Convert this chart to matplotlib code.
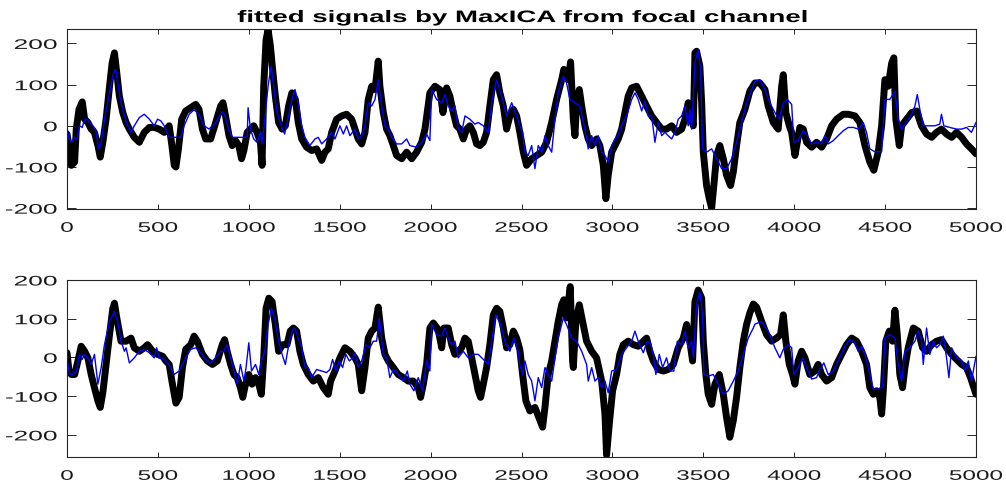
import numpy as np
import matplotlib
matplotlib.use("Agg")
import matplotlib.pyplot as plt
from matplotlib.patheffects import AbstractPathEffect
from matplotlib.transforms import Affine2D

# ---------------- data ----------------
top_black_x = [0,11,24,42,51,66,84,97,115,133,151,170,183,197,215,234,248,261,274,288,307,325,343,370,398,425,453,480,507,535,562,577,590,599,613,631,653,681,708,726,745,763,790,818,845,858,872,891,909,927,945,960,973,991,1009,1027,1045,1064,1073,1082,1095,1106,1119,1131,1146,1164,1183,1201,1219,1237,1256,1272,1291,1318,1346,1373,1401,1419,1437,1456,1483,1511,1538,1566,1584,1602,1621,1639,1657,1676,1694,1712,1721,1740,1758,1776,1795,1813,1841,1868,1896,1923,1951,1969,1984,1996,2024,2051,2068,2088,2106,2125,2143,2161,2180,2198,2216,2235,2253,2271,2290,2308,2326,2345,2363,2381,2400,2418,2436,2455,2473,2491,2510,2528,2556,2583,2611,2638,2666,2693,2721,2733,2757,2770,2785,2794,2803,2818,2831,2849,2867,2886,2913,2931,2950,2964,2977,2996,3014,3032,3051,3069,3087,3106,3133,3161,3188,3216,3243,3271,3298,3326,3353,3381,3399,3417,3436,3445,3454,3463,3481,3491,3500,3518,3533,3546,3558,3573,3591,3610,3628,3650,3665,3683,3701,3729,3756,3784,3811,3839,3857,3885,3912,3931,3940,3954,3973,3986,4004,4017,4031,4050,4068,4096,4123,4151,4178,4206,4233,4270,4297,4334,4361,4389,4416,4438,4462,4481,4499,4517,4536,4548,4559,4578,4591,4618,4646,4673,4700,4728,4756,4783,4810,4838,4866,4893,4921,4948,4975,5000]
top_black_y = [-20,-48,-96,-88,-8,40,58,16,8,-8,-16,-48,-76,-40,16,96,152,177,128,72,32,8,-8,-28,-40,-16,-4,-4,-8,-16,0,-48,-96,-100,-56,16,36,44,52,40,-8,-32,-32,8,48,56,24,-24,-48,-36,-48,-80,-60,-16,-8,0,-16,-40,-96,96,209,233,193,137,72,8,-8,0,48,80,64,8,-32,-52,-60,-56,-84,-64,-56,-16,16,24,28,16,-8,-32,-44,-16,64,96,88,157,96,32,-8,-24,-48,-72,-80,-64,-80,-64,-40,-8,40,80,96,88,32,92,72,32,0,-8,-32,-8,0,-16,-44,-48,-40,-16,48,112,124,80,48,-8,24,40,24,-16,-64,-96,-80,-72,-64,-40,8,64,112,137,112,155,16,-24,56,88,48,0,-32,-48,-32,-48,-96,-177,-120,-64,-48,-32,-8,32,72,92,96,72,48,24,8,-8,-8,0,-16,-8,16,56,16,0,177,181,145,56,-64,-145,-177,-200,-145,-72,-48,-80,-120,-145,-112,-48,8,40,84,104,104,88,48,8,-8,96,124,32,0,-16,-72,-40,-4,-8,-40,-52,-40,-52,-32,0,16,28,28,24,8,-48,-88,-108,-64,0,112,96,152,165,16,-48,0,16,32,36,0,-20,-28,-16,-8,-20,-28,-16,-28,-44,-56,-68]

top_blue_x = [0,11,24,42,55,69,84,97,110,124,142,157,175,188,206,234,256,267,279,297,316,334,352,370,398,425,453,480,498,516,535,562,589,626,644,672,699,726,754,781,818,845,858,872,891,909,945,991,996,1009,1027,1045,1064,1073,1088,1106,1122,1137,1155,1179,1197,1219,1237,1254,1272,1291,1309,1336,1364,1382,1401,1428,1456,1474,1501,1520,1538,1556,1584,1602,1621,1639,1657,1676,1694,1712,1731,1749,1767,1786,1813,1841,1868,1886,1923,1951,1978,1996,2006,2033,2061,2079,2097,2116,2134,2152,2171,2189,2216,2244,2262,2290,2317,2336,2363,2391,2418,2446,2473,2491,2506,2519,2537,2556,2574,2592,2611,2629,2647,2666,2684,2702,2730,2748,2766,2794,2821,2849,2867,2886,2904,2922,2941,2959,2977,2996,3014,3032,3051,3078,3106,3124,3142,3161,3179,3197,3216,3234,3252,3271,3289,3307,3326,3344,3362,3381,3399,3417,3426,3436,3454,3472,3485,3496,3518,3546,3573,3601,3628,3656,3683,3711,3738,3766,3784,3811,3839,3866,3894,3918,3940,3962,3986,3998,4022,4050,4068,4096,4123,4151,4169,4187,4215,4242,4270,4297,4325,4352,4380,4398,4416,4444,4481,4499,4526,4554,4572,4591,4618,4646,4664,4677,4691,4710,4737,4774,4801,4810,4823,4856,4893,4921,4948,4975,5000]
top_blue_y = [-4,-32,-40,-28,-32,0,-4,16,16,8,0,-8,-56,-40,16,80,128,137,104,56,24,0,-16,0,20,28,16,0,16,12,0,-28,-28,-28,0,28,39,28,0,-8,8,28,34,20,-12,-28,-28,-28,44,-8,-32,-40,-16,-44,16,96,145,96,32,0,-20,24,64,88,56,0,-28,-48,-32,-28,-44,-32,-16,-32,0,-20,0,-24,-8,-32,-24,0,56,48,64,112,48,0,-8,-28,-44,-44,-32,-48,-52,-40,-20,-36,88,64,56,76,48,36,48,-8,-16,24,16,4,8,0,-16,56,112,72,24,56,24,0,-16,-64,-72,-48,-104,-48,-64,-24,-48,-64,16,80,120,104,64,56,48,-8,-56,-24,-48,-24,-64,-72,-88,-48,-32,-24,0,24,64,80,64,36,60,24,24,-40,8,-24,-16,-24,-32,-16,16,24,48,0,40,-8,153,185,137,-56,-64,-56,-80,-104,-104,-80,-40,8,56,88,108,112,88,56,32,16,56,64,52,-40,-36,-12,-20,-44,-40,-44,-24,-44,-36,-24,-12,-4,-4,-8,8,-16,-56,-63,-63,64,64,84,16,-8,8,28,48,76,40,0,0,0,4,28,0,-4,-8,-8,-4,-16,8]

bot_black_x = [0,11,24,42,60,78,97,115,133,151,170,183,197,215,234,252,261,274,297,325,352,370,398,425,443,471,498,526,544,562,580,599,617,635,653,681,699,717,745,772,800,827,854,867,881,900,918,936,954,967,982,1000,1018,1037,1055,1069,1082,1095,1110,1128,1146,1164,1186,1210,1228,1245,1263,1281,1300,1327,1355,1382,1410,1437,1450,1474,1501,1529,1556,1584,1602,1621,1639,1657,1676,1694,1712,1731,1749,1767,1795,1822,1850,1877,1905,1932,1945,1960,1978,1996,2015,2042,2061,2073,2097,2116,2134,2152,2171,2189,2207,2226,2244,2262,2275,2290,2308,2326,2345,2363,2381,2400,2418,2436,2455,2473,2491,2506,2524,2546,2574,2602,2616,2629,2647,2666,2684,2702,2721,2733,2748,2768,2781,2785,2799,2818,2836,2858,2886,2913,2941,2959,2968,2983,3001,3023,3041,3060,3087,3115,3142,3170,3188,3206,3225,3252,3280,3307,3335,3362,3390,3408,3426,3441,3454,3472,3491,3500,3514,3527,3546,3564,3588,3610,3628,3646,3665,3683,3701,3720,3738,3756,3775,3793,3821,3848,3876,3903,3925,3940,3954,3973,3991,4004,4022,4041,4059,4086,4114,4132,4151,4178,4206,4233,4261,4288,4316,4343,4371,4398,4416,4435,4453,4471,4481,4490,4504,4523,4541,4554,4567,4581,4596,4609,4627,4655,4682,4706,4728,4756,4783,4810,4838,4866,4893,4921,4948,4970,4988,5000]
bot_black_y = [12,-35,-44,-44,-9,29,16,-1,-44,-78,-112,-129,-91,-18,59,127,140,102,42,42,50,25,16,25,33,16,8,3,-9,-18,-69,-118,-103,-26,21,33,55,42,8,-9,-18,-9,33,46,16,-18,-44,-52,-78,-103,-69,-44,-69,-52,-69,-95,-1,127,153,144,85,16,33,33,68,76,68,16,-18,-44,-61,-52,-78,-95,-61,-35,-1,25,16,-1,-18,-86,-26,50,68,76,130,50,8,-9,-26,-44,-52,-61,-61,-78,-103,-69,-18,76,89,72,25,76,76,33,8,16,25,50,42,-1,-44,-86,-103,-69,-26,33,110,127,119,76,25,33,68,50,20,-44,-112,-138,-129,-163,-180,-129,-44,-9,42,93,136,149,102,183,-9,-26,93,136,93,42,16,-1,-61,-146,-252,-171,-86,-44,8,33,42,33,29,42,50,16,-9,-31,-35,-31,-18,25,50,85,42,-9,144,174,153,42,-44,-95,-121,-69,-44,-95,-155,-206,-163,-103,-26,42,85,115,138,130,93,59,42,50,59,110,42,-18,-44,-69,-9,16,-1,-44,-35,-18,-44,-61,-52,-18,8,33,50,42,16,-18,-78,-95,-86,-103,-146,-86,42,68,42,122,59,-44,-78,-26,25,76,68,25,16,33,42,46,25,8,-5,-18,-26,-52,-78,-95]

bot_blue_x = [0,15,33,51,69,84,97,115,133,151,170,188,206,234,261,279,297,316,325,343,370,398,425,453,480,493,507,535,562,589,617,653,681,708,736,763,790,818,845,863,881,900,918,936,954,973,985,1000,1015,1037,1055,1069,1088,1106,1124,1142,1164,1183,1201,1223,1246,1254,1272,1291,1309,1327,1346,1373,1401,1428,1446,1461,1479,1498,1516,1534,1553,1571,1584,1602,1621,1644,1666,1685,1703,1718,1740,1758,1776,1795,1822,1850,1872,1886,1908,1932,1956,1978,1996,2006,2033,2061,2079,2097,2116,2134,2152,2180,2207,2235,2262,2290,2317,2336,2359,2385,2409,2436,2458,2482,2491,2506,2519,2537,2556,2574,2592,2611,2629,2647,2666,2684,2702,2730,2748,2776,2803,2831,2858,2867,2886,2904,2922,2941,2959,2977,2996,3023,3051,3078,3106,3124,3142,3170,3188,3206,3225,3239,3258,3276,3298,3316,3338,3357,3381,3399,3417,3436,3445,3463,3481,3496,3503,3527,3555,3582,3610,3637,3665,3692,3720,3747,3775,3784,3821,3857,3894,3921,3940,3967,3986,3998,4022,4046,4068,4096,4123,4141,4163,4187,4215,4242,4279,4306,4334,4352,4371,4389,4416,4435,4462,4486,4499,4526,4554,4572,4591,4609,4636,4664,4682,4700,4710,4728,4746,4765,4783,4801,4820,4838,4851,4866,4893,4921,4939,4958,4975,5000]
bot_blue_y = [-5,-44,-44,-35,8,-5,8,-1,-18,8,-69,-26,33,93,119,93,42,16,25,-14,-1,16,21,12,-1,25,-1,-5,-18,-44,-35,-1,21,25,12,-5,-14,-1,16,16,33,-1,-35,-69,-18,-61,-26,38,-35,-18,-44,-9,16,85,127,102,42,8,-18,42,76,76,50,25,-26,-26,-52,-31,-35,-39,-31,-5,-35,-9,-26,8,-9,-1,12,-26,-9,33,25,42,42,102,8,-1,-52,-31,-44,-61,-35,-69,-86,-52,-86,-9,-35,85,59,55,76,50,33,42,-1,16,-1,8,8,-5,-18,42,110,85,42,16,50,16,-18,-44,-9,-44,-61,-112,-52,-78,-26,-44,-61,-1,50,102,85,50,42,16,-18,-61,-26,-61,-52,-78,-61,-91,-35,-31,8,25,42,68,42,12,38,42,8,-44,8,-26,-1,-35,-35,42,33,68,25,42,-1,136,170,110,-44,-48,-44,-69,-95,-86,-61,-35,8,50,76,86,93,68,25,-1,21,33,25,-44,-26,-1,-26,-56,-52,-31,-14,-44,-35,-9,29,46,38,16,29,8,-44,-82,-82,-74,50,59,50,-18,-61,16,25,42,68,46,-18,76,8,42,25,33,55,-1,-52,25,-1,-9,-35,-9,-61,3]

title_text = "fitted signals by MaxICA from focal channel"
x_ticks = [0, 500, 1000, 1500, 2000, 2500, 3000, 3500, 4000, 4500, 5000]
y_ticks = [-200, -100, 0, 100, 200]
top_ylim = (-202, 235)
bot_ylim = (-257, 200)

# ---------------- styling helpers ----------------
SX_X = 1.75  # the reference picture is horizontally stretched
SX_Y = 1.9


class Stretch(AbstractPathEffect):
    """Stretch glyphs horizontally about an anchor (text stays real text)."""
    def __init__(self, sx, anchor="center"):
        super().__init__()
        self.sx = sx
        self.anchor = anchor

    def draw_path(self, renderer, gc, tpath, affine, rgbFace=None):
        ext = tpath.get_extents()
        if self.anchor == "center":
            cx = 0.5 * (ext.x0 + ext.x1)
        elif self.anchor == "right":
            cx = ext.x1
        else:
            cx = ext.x0
        t = Affine2D().translate(-cx, 0).scale(self.sx, 1.0).translate(cx, 0)
        renderer.draw_path(gc, tpath, t + affine, rgbFace)


plt.rcParams["font.family"] = ["Liberation Sans", "DejaVu Sans"]
plt.rcParams["axes.unicode_minus"] = False

fig = plt.figure(figsize=(10.06, 4.85), dpi=100)
W, H = 1006, 485
ax1 = fig.add_axes([67 / W, 1 - 210 / H, 909 / W, 180 / H])
ax2 = fig.add_axes([67 / W, 1 - 458 / H, 909 / W, 177 / H])

axis_col = (0.15, 0.15, 0.15)
for ax, bx, by, lx, ly, yl in [
    (ax1, top_black_x, top_black_y, top_blue_x, top_blue_y, top_ylim),
    (ax2, bot_black_x, bot_black_y, bot_blue_x, bot_blue_y, bot_ylim),
]:
    ax.plot(bx, by, color="black", lw=5.0, solid_joinstyle="round",
            solid_capstyle="round", zorder=2)
    ax.plot(lx, ly, color=(0, 0, 1), lw=1.0, zorder=3)
    ax.set_xlim(0, 5000)
    ax.set_ylim(*yl)
    ax.set_xticks(x_ticks)
    ax.set_xticklabels([str(v) for v in x_ticks])
    ax.set_yticks(y_ticks)
    ax.set_yticklabels([str(v) for v in y_ticks])
    ax.tick_params(axis="x", direction="in", length=3.6, width=0.7,
                   top=True, bottom=True, colors=axis_col, labelsize=10,
                   pad=8.5, labelcolor=(0.1, 0.1, 0.1))
    ax.tick_params(axis="y", direction="in", length=6.5, width=0.7,
                   left=True, right=True, colors=axis_col, labelsize=10,
                   pad=7, labelcolor=(0.1, 0.1, 0.1))
    for sp in ax.spines.values():
        sp.set_color(axis_col)
        sp.set_linewidth(0.8)
    for lab in ax.get_xticklabels():
        lab.set_path_effects([Stretch(SX_X, "center")])
    for lab in ax.get_yticklabels():
        lab.set_path_effects([Stretch(SX_Y, "right")])

title = ax1.set_title(title_text, fontsize=12, fontweight="bold", pad=5)
fig.canvas.draw()
w = title.get_window_extent().width
title.set_path_effects([Stretch(568.0 / max(w, 1.0), "center")])

fig.savefig("out.png", dpi=100)
